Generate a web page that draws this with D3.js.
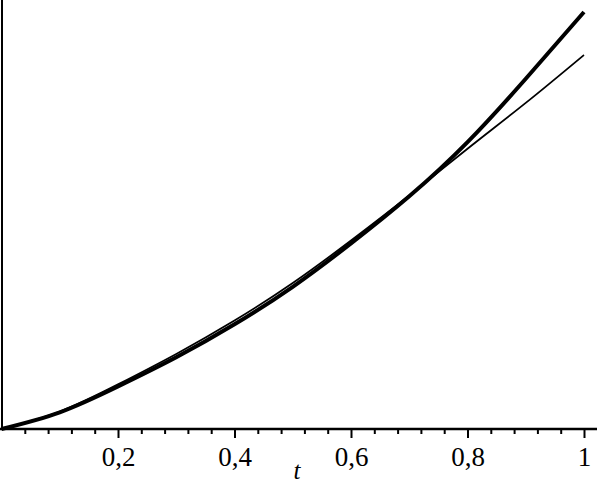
<!DOCTYPE html>
<html>
<head>
<meta charset="utf-8">
<script src="https://cdn.jsdelivr.net/npm/d3@7"></script>
<style>
  body { margin: 0; background: #fff; }
  .tick-label { font-family: "Liberation Serif", "DejaVu Serif", serif; font-size: 27px; }
</style>
</head>
<body>
<div class="chart"></div>
<script>
const w = 599;
const h = 484;

// values
const tValues = [0, 0.1, 0.2, 0.3, 0.4, 0.5, 0.6, 0.7, 0.8, 0.9, 1];
const thickValues = [0, 0.040, 0.102, 0.172, 0.251, 0.341, 0.445, 0.558, 0.688, 0.840, 1.0];
const thinValues  = [0, 0.042, 0.107, 0.180, 0.260, 0.350, 0.452, 0.560, 0.672, 0.782, 0.897];
const majorTicks = [0.2, 0.4, 0.6, 0.8, 1];
const minorTicks = [0.04, 0.08, 0.12, 0.16, 0.24, 0.28, 0.32, 0.36, 0.44, 0.48, 0.52, 0.56,
                    0.64, 0.68, 0.72, 0.76, 0.84, 0.88, 0.92, 0.96];
const axisLabel = "t";

const x = d3.scaleLinear().domain([0, 1]).range([1.5, 584]);
const y = d3.scaleLinear().domain([0, 1]).range([429, 12]);

const svg = d3.select(".chart")
  .append("svg")
  .attr("width", w)
  .attr("height", h);

// left axis line, no ticks
svg.append("line")
  .attr("x1", 2).attr("x2", 2)
  .attr("y1", 0).attr("y2", y(0))
  .attr("stroke", "#000")
  .attr("stroke-width", 2);

const fmt = d => d === 1 ? "1" : d.toFixed(1).replace(".", ",");

// bottom axis: minor ticks
svg.append("g")
  .attr("transform", "translate(0," + y(0) + ")")
  .call(d3.axisBottom(x).tickValues(minorTicks).tickSize(5).tickFormat(""))
  .call(g => g.select(".domain").remove())
  .selectAll("line").attr("stroke-width", 2);

// bottom axis: major ticks + labels
const xAxis = svg.append("g")
  .attr("transform", "translate(0," + y(0) + ")")
  .call(d3.axisBottom(x).tickValues(majorTicks).tickSize(9).tickPadding(9).tickFormat(fmt));
xAxis.select(".domain").remove();
xAxis.selectAll("line").attr("stroke-width", 2);
xAxis.selectAll("text")
  .attr("class", "tick-label")
  .attr("fill", "#000")
  .attr("font-family", null)
  .attr("font-size", null);

svg.append("line")
  .attr("x1", 0).attr("x2", 597)
  .attr("y1", y(0)).attr("y2", y(0))
  .attr("stroke", "#000")
  .attr("stroke-width", 2.5);

svg.append("text")
  .attr("x", 297)
  .attr("y", 479)
  .attr("text-anchor", "middle")
  .style("font-family", "'Liberation Serif', serif")
  .style("font-style", "italic")
  .style("font-size", "25px")
  .text(axisLabel);

const line = d3.line()
  .x(d => x(d[0]))
  .y(d => y(d[1]))
  .curve(d3.curveNatural);

svg.append("path")
  .datum(tValues.map((t, i) => [t, thinValues[i]]))
  .attr("d", line)
  .attr("fill", "none")
  .attr("stroke", "#000")
  .attr("stroke-width", 1.8);

svg.append("path")
  .datum(tValues.map((t, i) => [t, thickValues[i]]))
  .attr("d", line)
  .attr("fill", "none")
  .attr("stroke", "#000")
  .attr("stroke-width", 4);
</script>
</body>
</html>
